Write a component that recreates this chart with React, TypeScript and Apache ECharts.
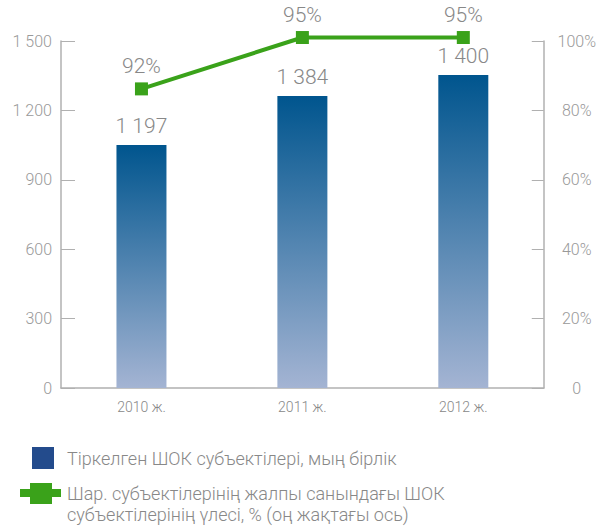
import React, { useEffect, useRef } from "react";
import * as echarts from "echarts";

const categories = ["2010 ж.", "2011 ж.", "2012 ж."];
const barValues = [1050, 1262, 1353];
const barLabels = ["1 197", "1 384", "1 400"];
const shareValues = [86.2, 101, 101];
const shareLabels = ["92%", "95%", "95%"];
const leftTicks = { min: 0, max: 1500, interval: 300 };
const rightTicks = { min: 0, max: 100, interval: 20 };
const legendBar = "Тіркелген ШОК субъектілері, мың бірлік";
const legendLine = "Шар. субъектілерінің жалпы санындағы ШОК\nсубъектілерінің үлесі, % (оң жақтағы ось)";

const NUM_FONT = "Roboto, sans-serif";
const TXT_FONT = "Roboto, sans-serif";

export default function App() {
  const ref = useRef<HTMLDivElement>(null);
  useEffect(() => {
    if (!ref.current) return;
    const chart = echarts.init(ref.current, undefined, { renderer: "svg" });
    const axisColor = "#b0b0b0";
    chart.setOption({
      animation: false,
      grid: { left: 61, right: 53, top: 41, bottom: 138 },
      xAxis: {
        type: "category",
        data: categories,
        boundaryGap: true,
        axisLine: { lineStyle: { color: axisColor, width: 1.5 } },
        axisTick: { inside: true, length: 9, interval: 0, lineStyle: { color: axisColor } },
        axisLabel: { color: "#888", fontSize: 14, fontWeight: 300, fontFamily: NUM_FONT, margin: 12 },
      },
      yAxis: [
        {
          type: "value",
          ...leftTicks,
          axisLine: { show: true, lineStyle: { color: axisColor, width: 1.5 } },
          axisTick: { show: true, inside: true, length: 14, lineStyle: { color: axisColor } },
          splitLine: { show: false },
          axisLabel: {
            color: "#999",
            fontSize: 16,
            fontWeight: 300,
            fontFamily: NUM_FONT,
            margin: 9,
            formatter: (v: number) => String(v).replace(/\B(?=(\d{3})+(?!\d))/g, " "),
          },
        },
        {
          type: "value",
          ...rightTicks,
          position: "right",
          axisLine: { show: true, lineStyle: { color: axisColor, width: 1.5 } },
          axisTick: { show: true, inside: true, length: 12, lineStyle: { color: axisColor } },
          splitLine: { show: false },
          axisLabel: {
            color: "#999",
            fontSize: 16,
            fontWeight: 300,
            fontFamily: NUM_FONT,
            margin: 33,
            align: "center",
            formatter: (v: number) => (v === 0 ? "0" : v + "%"),
          },
        },
      ],
      series: [
        {
          type: "bar",
          data: barValues,
          barWidth: 50,
          itemStyle: {
            color: new echarts.graphic.LinearGradient(0, 0, 0, 1, [
              { offset: 0, color: "#00558e" },
              { offset: 1, color: "#a4b4d3" },
            ]),
          },
          label: {
            show: true,
            position: "top",
            distance: 9,
            color: "#888",
            fontSize: 21,
            fontWeight: 300,
            lineHeight: 21,
            fontFamily: NUM_FONT,
            formatter: (p: any) => barLabels[p.dataIndex],
          },
        },
        {
          type: "line",
          yAxisIndex: 1,
          data: shareValues,
          clip: false,
          symbol: "rect",
          symbolSize: 13,
          lineStyle: { color: "#3aa21a", width: 4 },
          itemStyle: { color: "#3aa21a" },
          label: {
            show: true,
            position: "top",
            distance: 6,
            color: "#888",
            fontSize: 21,
            fontWeight: 300,
            lineHeight: 21,
            fontFamily: NUM_FONT,
            formatter: (p: any) => shareLabels[p.dataIndex],
          },
        },
      ],
      graphic: [
        { type: "rect", shape: { x: 32, y: 447, width: 22, height: 22 }, style: { fill: "#234b8c" } },
        {
          type: "text",
          x: 67,
          y: 458,
          style: { text: legendBar, fill: "#888", font: `300 18px ${TXT_FONT}`, textVerticalAlign: "middle" },
        },
        { type: "line", shape: { x1: 20, y1: 493, x2: 61, y2: 493 }, style: { stroke: "#3aa21a", lineWidth: 8 } },
        { type: "rect", shape: { x: 30, y: 483, width: 22, height: 21 }, style: { fill: "#3aa21a" } },
        {
          type: "text",
          x: 67,
          y: 483,
          style: { text: legendLine, fill: "#888", font: `300 18px ${TXT_FONT}`, lineHeight: 21 },
        },
      ],
    });
    return () => chart.dispose();
  }, []);
  return <div ref={ref} style={{ position: "absolute", left: 0, top: 0, width: 599, height: 526 }} />;
}
